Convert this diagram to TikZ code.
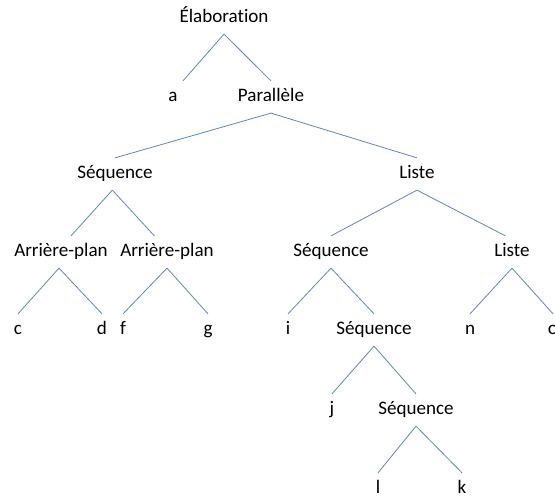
\documentclass[tikz,border=0pt]{standalone}
\usepackage{fontspec}
\setmainfont{Carlito}[Ligatures=NoCommon]
\usetikzlibrary{positioning}
\definecolor{bleuligne}{HTML}{5A86C4}
\tikzset{
  noeud/.style={rectangle, inner xsep=1pt, inner ysep=5.5pt, text height=9.8pt, text depth=3pt,
                font=\fontsize{14.3}{17}\selectfont, text=black},
  branche/.style={draw=bleuligne, line width=0.6pt}
}

\begin{document}
\begin{tikzpicture}[x=0.75pt, y=-0.75pt]
  \useasboundingbox (0,0) rectangle (555,498);
  % Racine
  \node (elab) [noeud] at (224,18) {Élaboration};
  \node (a) [noeud] at (173,97) {a};
  \node (para) [noeud] at (271,97) {Parallèle};
  \draw [branche] (elab.south) -- ([xshift=7.5pt]a.north); \draw [branche] (elab.south) -- (para.north);
  % Niveau 2
  \node (seqa) [noeud] at (115,174) {Séquence};
  \node (listea) [noeud] at (417,174) {Liste};
  \draw [branche] (para.south) -- (seqa.north); \draw [branche] (para.south) -- (listea.north);
  % Niveau 3
  \node (arra) [noeud] at (61,252) {Arrière-plan};
  \node (arrb) [noeud] at (167,252) {Arrière-plan};
  \node (seqb) [noeud] at (331,252) {Séquence};
  \node (listeb) [noeud] at (512,252) {Liste};
  \draw [branche] ([xshift=-2pt]seqa.south) -- ([xshift=7.5pt]arra.north);
  \draw [branche] ([xshift=-2pt]seqa.south) -- ([xshift=-9.5pt]arrb.north);
  \draw [branche] (listea.south) -- (seqb.north); \draw [branche] (listea.south) -- ([xshift=-5pt]listeb.north);
  % Feuilles et sous-arbres
  \node (c) [noeud] at (18,330) {c};
  \node (d) [noeud] at (102,330) {d};
  \node (f) [noeud] at (123,330) {f};
  \node (g) [noeud] at (208,330) {g};
  \node (i) [noeud] at (288,330) {i};
  \node (seqc) [noeud] at (374,330) {Séquence};
  \node (n) [noeud] at (470,330) {n};
  \node (o) [noeud] at (553,330) {o};
  \draw [branche] ([xshift=-1.5pt]arra.south) -- (c.north); \draw [branche] ([xshift=-1.5pt]arra.south) -- (d.north);
  \draw [branche] (arrb.south) -- (f.north); \draw [branche] (arrb.south) -- (g.north);
  \draw [branche] (seqb.south) -- (i.north); \draw [branche] (seqb.south) -- (seqc.north);
  \draw [branche] (listeb.south) -- (n.north); \draw [branche] (listeb.south) -- (o.north);
  \node (j) [noeud] at (332,410) {j};
  \node (seqd) [noeud] at (416,410) {Séquence};
  \draw [branche] (seqc.south) -- (j.north); \draw [branche] (seqc.south) -- (seqd.north);
  \node (l) [noeud] at (378,489) {l};
  \node (k) [noeud] at (462,489) {k};
  \draw [branche] (seqd.south) -- (l.north); \draw [branche] (seqd.south) -- (k.north);
\end{tikzpicture}
\end{document}
